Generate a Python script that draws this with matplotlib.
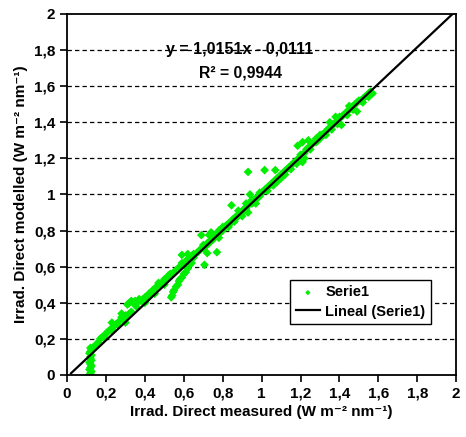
import numpy as np
import matplotlib
matplotlib.use("Agg")
import matplotlib.pyplot as plt

plt.rcParams['font.family'] = ['Liberation Sans', 'DejaVu Sans']

# measured vs modelled direct irradiance
measured = [
    # vertical group near 0.12
    0.115, 0.12, 0.125, 0.115, 0.12, 0.125, 0.12, 0.115, 0.125, 0.12, 0.12, 0.125, 0.115, 0.12, 0.125, 0.12,
    # low band
    0.13, 0.14, 0.15, 0.16, 0.17, 0.18, 0.19, 0.20, 0.21, 0.22, 0.23, 0.24, 0.25, 0.26, 0.27, 0.28, 0.29,
    0.30, 0.31, 0.30, 0.32, 0.33, 0.23, 0.28,
    0.31, 0.32, 0.33, 0.34, 0.35, 0.36, 0.37, 0.355,
    0.38, 0.39, 0.40, 0.41, 0.42, 0.43, 0.44, 0.45, 0.46, 0.47, 0.48, 0.49, 0.50, 0.51, 0.52, 0.53, 0.54,
    0.55, 0.56, 0.57, 0.40, 0.45, 0.50,
    # lower branch
    0.535, 0.54, 0.545, 0.55, 0.56, 0.57, 0.575, 0.58, 0.59, 0.60, 0.61, 0.62, 0.63, 0.64,
    # middle band
    0.58, 0.59, 0.59, 0.60, 0.61, 0.62, 0.62, 0.63, 0.64, 0.65, 0.65, 0.66, 0.67, 0.68, 0.69, 0.70, 0.70,
    0.71, 0.72,
    0.706, 0.77, 0.72, 0.69, 0.73, 0.78, 0.74,
    0.73, 0.74, 0.75, 0.76, 0.77, 0.78, 0.79, 0.80, 0.81, 0.82, 0.83, 0.84, 0.85, 0.86, 0.87, 0.88, 0.89,
    0.90, 0.91, 0.92, 0.93, 0.94, 0.95, 0.96, 0.97, 0.98, 0.99, 1.00,
    0.75, 0.78, 0.80, 0.83, 0.86, 0.88, 0.90, 0.92, 0.95, 0.97, 0.99,
    0.845, 0.93, 0.94, 0.93, 1.015,
    # upper band
    1.01, 1.02, 1.03, 1.04, 1.05, 1.06, 1.07, 1.08, 1.09, 1.10, 1.11, 1.12, 1.13, 1.14, 1.15, 1.16, 1.17,
    1.18, 1.19, 1.20, 1.21, 1.22, 1.23, 1.24, 1.25, 1.26, 1.27, 1.28, 1.29, 1.30,
    1.03, 1.06, 1.08, 1.10, 1.12, 1.15, 1.18, 1.20, 1.22, 1.25, 1.28, 1.30,
    1.185, 1.21, 1.24, 1.07, 1.21,
    1.31, 1.32, 1.33, 1.34, 1.35, 1.36, 1.37, 1.38, 1.39, 1.40, 1.41, 1.42, 1.43, 1.44, 1.45, 1.46, 1.47,
    1.48, 1.49, 1.50, 1.51, 1.52, 1.53, 1.54, 1.55, 1.56, 1.57,
    1.33, 1.36, 1.39, 1.41, 1.44, 1.47, 1.49, 1.52, 1.55, 1.35, 1.38, 1.45,
]
modelled = [
    0.00, 0.01, 0.02, 0.03, 0.04, 0.05, 0.06, 0.07, 0.08, 0.09, 0.10, 0.11, 0.12, 0.13, 0.14, 0.15,
    0.15, 0.15, 0.17, 0.18, 0.20, 0.21, 0.21, 0.23, 0.24, 0.25, 0.25, 0.27, 0.28, 0.28, 0.30, 0.32, 0.31,
    0.33, 0.33, 0.29, 0.34, 0.35, 0.29, 0.34,
    0.39, 0.40, 0.41, 0.40, 0.41, 0.40, 0.42, 0.38,
    0.41, 0.42, 0.43, 0.42, 0.45, 0.45, 0.47, 0.47, 0.49, 0.51, 0.50, 0.51, 0.53, 0.53, 0.55, 0.56, 0.56,
    0.57, 0.58, 0.59, 0.40, 0.45, 0.50,
    0.43, 0.44, 0.46, 0.47, 0.49, 0.50, 0.52, 0.53, 0.54, 0.56, 0.57, 0.59, 0.61, 0.62,
    0.60, 0.62, 0.665, 0.61, 0.63, 0.64, 0.67, 0.65, 0.66, 0.65, 0.67, 0.67, 0.68, 0.69, 0.70, 0.70, 0.72,
    0.71, 0.73,
    0.61, 0.68, 0.675, 0.775, 0.775, 0.76, 0.79,
    0.73, 0.75, 0.75, 0.77, 0.78, 0.78, 0.80, 0.80, 0.82, 0.83, 0.84, 0.84, 0.86, 0.87, 0.87, 0.89, 0.90,
    0.90, 0.92, 0.92, 0.94, 0.95, 0.95, 0.97, 0.97, 0.99, 0.99, 1.01,
    0.77, 0.80, 0.82, 0.82, 0.85, 0.91, 0.88, 0.95, 0.97, 0.95, 1.01,
    0.94, 0.90, 1.00, 1.125, 1.135,
    1.02, 1.03, 1.04, 1.05, 1.06, 1.07, 1.08, 1.09, 1.10, 1.11, 1.12, 1.13, 1.14, 1.15, 1.16, 1.17, 1.18,
    1.19, 1.20, 1.22, 1.22, 1.23, 1.25, 1.26, 1.27, 1.28, 1.29, 1.29, 1.30, 1.31,
    1.02, 1.05, 1.07, 1.09, 1.11, 1.14, 1.17, 1.19, 1.20, 1.25, 1.31, 1.33,
    1.27, 1.29, 1.30, 1.135, 1.18,
    1.33, 1.33, 1.35, 1.36, 1.37, 1.39, 1.39, 1.40, 1.41, 1.43, 1.43, 1.44, 1.45, 1.46, 1.47, 1.48, 1.49,
    1.50, 1.51, 1.52, 1.52, 1.53, 1.54, 1.55, 1.56, 1.57, 1.56,
    1.33, 1.36, 1.39, 1.385, 1.44, 1.47, 1.46, 1.51, 1.54, 1.40, 1.43, 1.49,
]

# linear trendline from the chart
slope = 1.0151
intercept = -0.0111
r2 = 0.9944
trend_x = np.array([0.02, 2.0])

ticks = [0, 0.2, 0.4, 0.6, 0.8, 1.0, 1.2, 1.4, 1.6, 1.8, 2.0]
tick_labels = ["0", "0,2", "0,4", "0,6", "0,8", "1", "1,2", "1,4", "1,6", "1,8", "2"]

fig = plt.figure(figsize=(4.66, 4.37), dpi=100)
ax = fig.add_axes([0.144, 0.142, 0.835, 0.826])

# dashed horizontal gridlines
for t in ticks[1:-1]:
    ax.axhline(t, color="black", lw=0.9, ls=(0, (3.5, 2.5)), zorder=1)

ax.scatter(measured, modelled, marker="D", s=20, color="#00ee00", edgecolors="none",
           label="Serie1", zorder=2)
ax.plot(trend_x, slope * trend_x + intercept, color="black", lw=1.6,
        label="Lineal (Serie1)", zorder=3)

ax.set_xlim(0, 2)
ax.set_ylim(0, 2)
ax.set_xticks(ticks)
ax.set_yticks(ticks)
ax.set_xticklabels(tick_labels, fontweight="bold", fontsize=11)
ax.set_yticklabels(tick_labels, fontweight="bold", fontsize=11)
ax.tick_params(direction="out", length=5, width=1.2, color="black")
for sp in ax.spines.values():
    sp.set_linewidth(1.3)

ax.set_xlabel("Irrad. Direct measured (W m⁻² nm⁻¹)", fontweight="bold", fontsize=11, labelpad=3)
ax.set_ylabel("Irrad. Direct modelled (W m⁻² nm⁻¹)", fontweight="bold", fontsize=11, labelpad=4)

eq = "y = " + f"{slope:.4f}".replace(".", ",") + "x - " + f"{-intercept:.4f}".replace(".", ",")
ax.text(0.885, 1.805, eq, ha="center", va="center", fontweight="bold", fontsize=11.5)
ax.text(0.89, 1.675, "R² = " + f"{r2:.4f}".replace(".", ","),
        ha="center", va="center", fontweight="bold", fontsize=11.3)

leg = ax.legend(loc="lower left", bbox_to_anchor=(0.555, 0.12), fancybox=False,
                framealpha=1, edgecolor="black", prop={"weight": "bold", "size": 10.5},
                handlelength=1.6, handletextpad=0.4, borderpad=0.4, labelspacing=0.35,
                markerscale=0.6)
leg.get_frame().set_linewidth(1.0)

fig.savefig("out.png", dpi=100)
